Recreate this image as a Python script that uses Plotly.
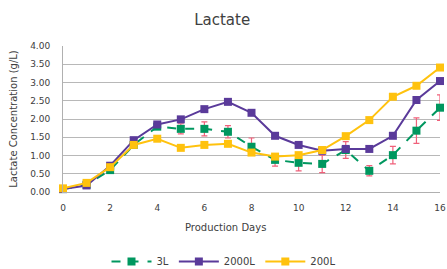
import plotly.graph_objects as go

days = list(range(17))
l3 = [0.08, 0.20, 0.60, 1.29, 1.79, 1.73, 1.73, 1.65, 1.24, 0.88, 0.80, 0.77, 1.15, 0.58, 1.01, 1.68, 2.31]
l3_err = [0.02, 0.03, 0.05, 0.05, 0.05, 0.14, 0.19, 0.17, 0.24, 0.17, 0.22, 0.24, 0.23, 0.14, 0.24, 0.35, 0.35]
l2000 = [0.08, 0.18, 0.72, 1.42, 1.85, 1.99, 2.27, 2.47, 2.17, 1.54, 1.29, 1.13, 1.18, 1.18, 1.54, 2.52, 3.04]
l200 = [0.10, 0.25, 0.68, 1.29, 1.46, 1.21, 1.29, 1.32, 1.08, 0.97, 1.01, 1.15, 1.53, 1.97, 2.61, 2.91, 3.41]

green = "#00975F"
purple = "#5A3A9A"
yellow = "#FFC20E"
errc = "#F0607A"

fig = go.Figure()
fig.add_trace(go.Scatter(
    x=days, y=l3, name="3L", mode="lines+markers",
    line=dict(color=green, width=2, dash="dash"),
    marker=dict(symbol="square", size=8, color=green),
    error_y=dict(type="data", array=l3_err, color=errc, thickness=1.2, width=3),
    cliponaxis=False))
fig.add_trace(go.Scatter(
    x=days, y=l2000, name="2000L", mode="lines+markers",
    line=dict(color=purple, width=2),
    marker=dict(symbol="square", size=8, color=purple),
    cliponaxis=False))
fig.add_trace(go.Scatter(
    x=days, y=l200, name="200L", mode="lines+markers",
    line=dict(color=yellow, width=2),
    marker=dict(symbol="square", size=8, color=yellow),
    cliponaxis=False))

fig.update_layout(
    width=447, height=269,
    margin=dict(l=63, r=7, t=46, b=77, autoexpand=False),
    paper_bgcolor="white", plot_bgcolor="white",
    font=dict(family="DejaVu Sans", size=9, color="#404040"),
    title=dict(text="Lactate", x=0.497, xanchor="center", xref="container",
               y=0.926, yanchor="middle", yref="container",
               font=dict(size=15, color="#404040")),
    showlegend=True,
    legend=dict(orientation="h", x=0.5, xanchor="center", xref="container",
                y=0.028, yanchor="middle", yref="container",
                font=dict(size=10), itemwidth=40),
    xaxis=dict(range=[0, 16], tickvals=[0, 2, 4, 6, 8, 10, 12, 14, 16],
               showgrid=False, zeroline=False, showline=True, linecolor="#B0B0B0",
               ticks="outside", ticklen=7, tickcolor="rgba(0,0,0,0)", automargin=False,
               ticklabeloverflow="allow"),
    yaxis=dict(range=[0, 4], dtick=0.5, tickformat=".2f", showgrid=True,
               gridcolor="#B8B8B8", gridwidth=1, zeroline=False,
               showline=True, linecolor="#B0B0B0",
               ticks="outside", ticklen=10, tickcolor="rgba(0,0,0,0)", automargin=False,
               title=dict(text="Lactate Concentration (g/L)", font=dict(size=10), standoff=10)),
    annotations=[dict(text="Production Days", xref="paper", yref="paper",
                      x=0.432, y=-0.24, xanchor="center", yanchor="middle",
                      showarrow=False, font=dict(size=10, color="#404040"))],
)
fig.write_html("out.html", config={"displayModeBar": False},
               post_script="document.body.style.margin='0';document.body.style.overflow='hidden';")
